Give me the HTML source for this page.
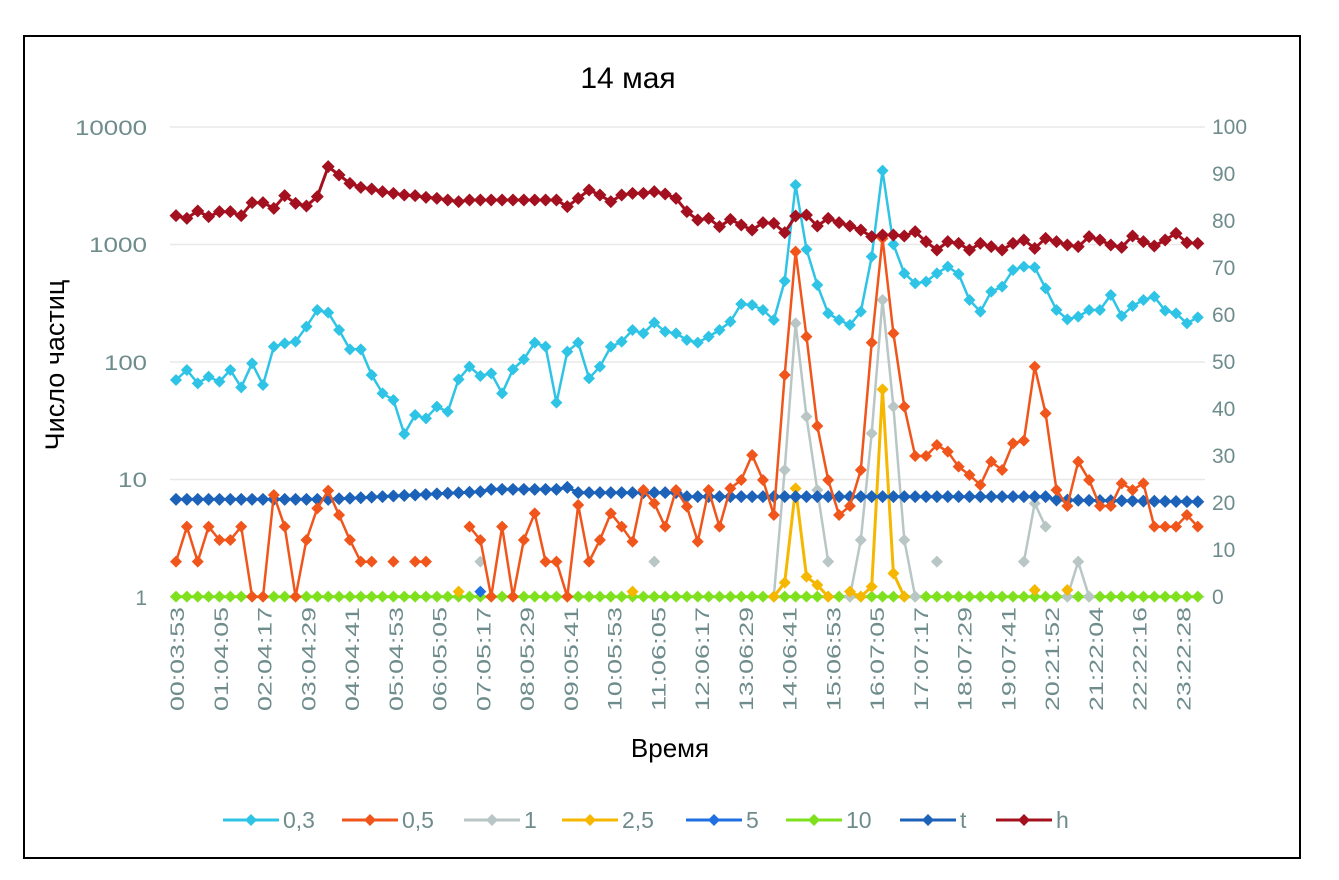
<!DOCTYPE html>
<html><head><meta charset="utf-8"><style>
html,body{margin:0;padding:0;background:#fff;}
svg{display:block;font-family:"Liberation Sans","DejaVu Sans",sans-serif;}
</style></head><body>
<svg id="s" width="1339" height="880" viewBox="0 0 1339 880" xmlns="http://www.w3.org/2000/svg">
<rect x="24" y="36" width="1276" height="822" fill="#fff" stroke="#000" stroke-width="2"/>
<text x="628" y="88" font-size="30" text-anchor="middle" fill="#000">14 мая</text>
<g stroke="#e8e8e8" stroke-width="1.5">
<line x1="170" x2="1205" y1="127" y2="127"/><line x1="170" x2="1205" y1="244.5" y2="244.5"/>
<line x1="170" x2="1205" y1="362" y2="362"/><line x1="170" x2="1205" y1="479.5" y2="479.5"/>
<line x1="170" x2="1205" y1="597" y2="597" stroke="#d8d8d8"/>
</g>
<g fill="#6f8c8c" font-size="21" text-anchor="end" lengthAdjust="spacingAndGlyphs">
<text x="147" y="135" textLength="72" lengthAdjust="spacingAndGlyphs">10000</text><text x="147" y="252" textLength="58" lengthAdjust="spacingAndGlyphs">1000</text>
<text x="147" y="370" textLength="43" lengthAdjust="spacingAndGlyphs">100</text><text x="147" y="487" textLength="29" lengthAdjust="spacingAndGlyphs">10</text>
<text x="147" y="605">1</text>
</g>
<g fill="#6f8c8c" font-size="21" text-anchor="start" id="ra"></g>
<text transform="translate(64,365) rotate(-90)" font-size="27" text-anchor="middle" fill="#000">Число частиц</text>
<text x="670" y="757" font-size="26" text-anchor="middle" fill="#000">Время</text>
<g id="xl" fill="#6f8c8c" font-size="19"></g>
<g id="series"></g>
<g id="leg" font-size="23" fill="#6f8c8c"></g>
</svg>
<script>
var NS="http://www.w3.org/2000/svg";
function el(tag,attrs,parent,txt){var e=document.createElementNS(NS,tag);for(var k in attrs)e.setAttribute(k,attrs[k]);if(txt!==undefined)e.textContent=txt;parent.appendChild(e);return e;}
var ra=document.getElementById('ra');
for(var k=0;k<=10;k++){el('text',{x:1212,y:597-47*k+7},ra,String(k*10));}
var labs=["00:03:53","01:04:05","02:04:17","03:04:29","04:04:41","05:04:53","06:05:05","07:05:17","08:05:29","09:05:41","10:05:53","11:06:05","12:06:17","13:06:29","14:06:41","15:06:53","16:07:05","17:07:17","18:07:29","19:07:41","20:21:52","21:22:04","22:22:16","23:22:28"];
var xl=document.getElementById('xl');
labs.forEach(function(l,k){var x=177+43.75*k+7;el('text',{transform:'translate('+x+',607) rotate(-90)','text-anchor':'end',textLength:104,lengthAdjust:'spacingAndGlyphs'},xl,l);});
function X(i){return 176+10.87*i;}
function Z(z){return z===null?null:150+z/3;}
var h=[197,205,183,200,185,185,197,158,158,175,137,160,168,140,50,75,100,112,117,125,130,135,137,142,145,150,155,150,150,150,150,150,150,150,150,150,170,145,120,135,155,135,130,130,125,132,145,185,210,
205,230,208,225,240,218,220,248,198,195,228,205,218,228,240,260,255,255,258,245,275,300,275,280,300,280,290,300,280,270,295,265,275,285,290,260,270,285,292,258,275,288,270,250,278,280];
var p3a=[690,660,700,680,695,660,712,640,705,590,580,575,530,480,488,540,598,598,675,730,750,852,795,805,770,785,688,650,678,670,730,658,628,578,590,758,605,578,685,650,590,575,540,550,518,545,550];
var p3b=[570,578,560,540,515,462,465,480,510,393,105,298,405,490,510,525,485,320,62,283,370,400,395,370,350,372,450,485,425,410,360,350,352,415,480,508,500,480,480,435,498,468,450,440,482,490,520,502];
var p3=p3a.concat(p3b);
var B=1340,N=null;
var p5a=[1235,1130,1235,1130,1170,1170,1130,B,B,1035,1130,B,1170,1075,1022,1095,1170,1235,1235,N,1235,N,1235,1235,N,N,N,1130,1170,B,1130,B,1170,1090,1235,1235,B,1065,1235,1170,1090,1130,1175,1020,1060,1130,1020];
var p5b=[1070,1175,1020,1130,1015,990,915,990,1095,675,305,560,828,990,1095,1068,960,578,265,550,770,918,918,885,905,950,975,1005,935,960,880,872,650,790,1020,1068,935,990,1068,1068,1000,1020,1000,1130,1130,1130,1095,1130];
var p5=p5a.concat(p5b);
var g1=[];for(var i=0;i<95;i++)g1.push(N);
g1[28]=1235;g1[44]=1235;g1[55]=B;g1[56]=960;g1[57]=520;g1[58]=800;g1[59]=1020;g1[60]=1235;
g1[62]=B;g1[63]=1170;g1[64]=850;g1[65]=450;g1[66]=770;g1[67]=1170;g1[68]=B;g1[70]=1235;
g1[78]=1235;g1[79]=1060;g1[80]=1130;g1[82]=B;g1[83]=1235;g1[84]=B;
var y25=[];for(i=0;i<95;i++)y25.push(N);
y25[26]=1325;y25[42]=1325;y25[55]=B;y25[56]=1298;y25[57]=1015;y25[58]=1280;y25[59]=1305;y25[60]=B;y25[62]=1325;
y25[63]=B;y25[64]=1310;y25[65]=718;y25[66]=1270;y25[67]=B;y25[79]=1320;y25[82]=1320;
var b5=[];for(i=0;i<95;i++)b5.push(N);b5[28]=1325;
var g10=[];for(i=0;i<95;i++)g10.push(B);
var t=[];for(i=0;i<95;i++){var v;
 if(i<=14)v=1048;else if(i<=28)v=1048-(i-14)*23/14;else if(i<=35)v=1018;else if(i==36)v=1012;else if(i<=46)v=1028;else if(i<=80)v=1040;else v=1050+(i-81)*0.4;t.push(v);}
var S=document.getElementById('series');
function draw(arr,col,r,lw,conv){
 var segs=[],cur=[];
 for(var i=0;i<arr.length;i++){var y=arr[i]===null?null:(conv?conv(arr[i]):arr[i]);
  if(y===null){if(cur.length)segs.push(cur);cur=[];}else cur.push([X(i),y]);}
 if(cur.length)segs.push(cur);
 segs.forEach(function(s){if(s.length>1)el('polyline',{points:s.map(function(p){return p[0].toFixed(1)+','+p[1].toFixed(1)}).join(' '),fill:'none',stroke:col,'stroke-width':lw,'stroke-linejoin':'round'},S);});
 segs.forEach(function(s){s.forEach(function(p){var x=p[0],y=p[1];
  el('polygon',{points:(x)+','+(y-r)+' '+(x+r)+','+y+' '+x+','+(y+r)+' '+(x-r)+','+y,fill:col},S);
  el('circle',{cx:x,cy:y,r:r*0.7,fill:col},S);});});
}
draw(g10,'#7fe01e',6,3,Z);
draw(g1,'#b9c6c6',6,2.5,Z);
draw(y25,'#f5b700',6,3,Z);
draw(b5,'#1f6fe0',6,2.5,Z);
draw(t,'#1c62b8',6.5,3,Z);
draw(p5,'#f0561c',6,2.5,Z);
draw(p3,'#2fc4e6',6,2.5,Z);
draw(h,'#a3101f',6.5,3,Z);
var L=document.getElementById('leg');
var items=[["0,3",223,'#2fc4e6'],["0,5",342,'#f0561c'],["1",464,'#b9c6c6'],["2,5",562,'#f5b700'],["5",686,'#1f6fe0'],["10",786,'#7fe01e'],["t",900,'#1c62b8'],["h",996,'#a3101f']];
items.forEach(function(it){var x=it[1],y=820;
 el('line',{x1:x,x2:x+56,y1:y,y2:y,stroke:it[2],'stroke-width':3},L);
 var c=x+28,r=6;el('polygon',{points:c+','+(y-r)+' '+(c+r)+','+y+' '+c+','+(y+r)+' '+(c-r)+','+y,fill:it[2]},L);
 el('text',{x:x+60,y:y+8},L,it[0]);});
</script>
</body></html>
